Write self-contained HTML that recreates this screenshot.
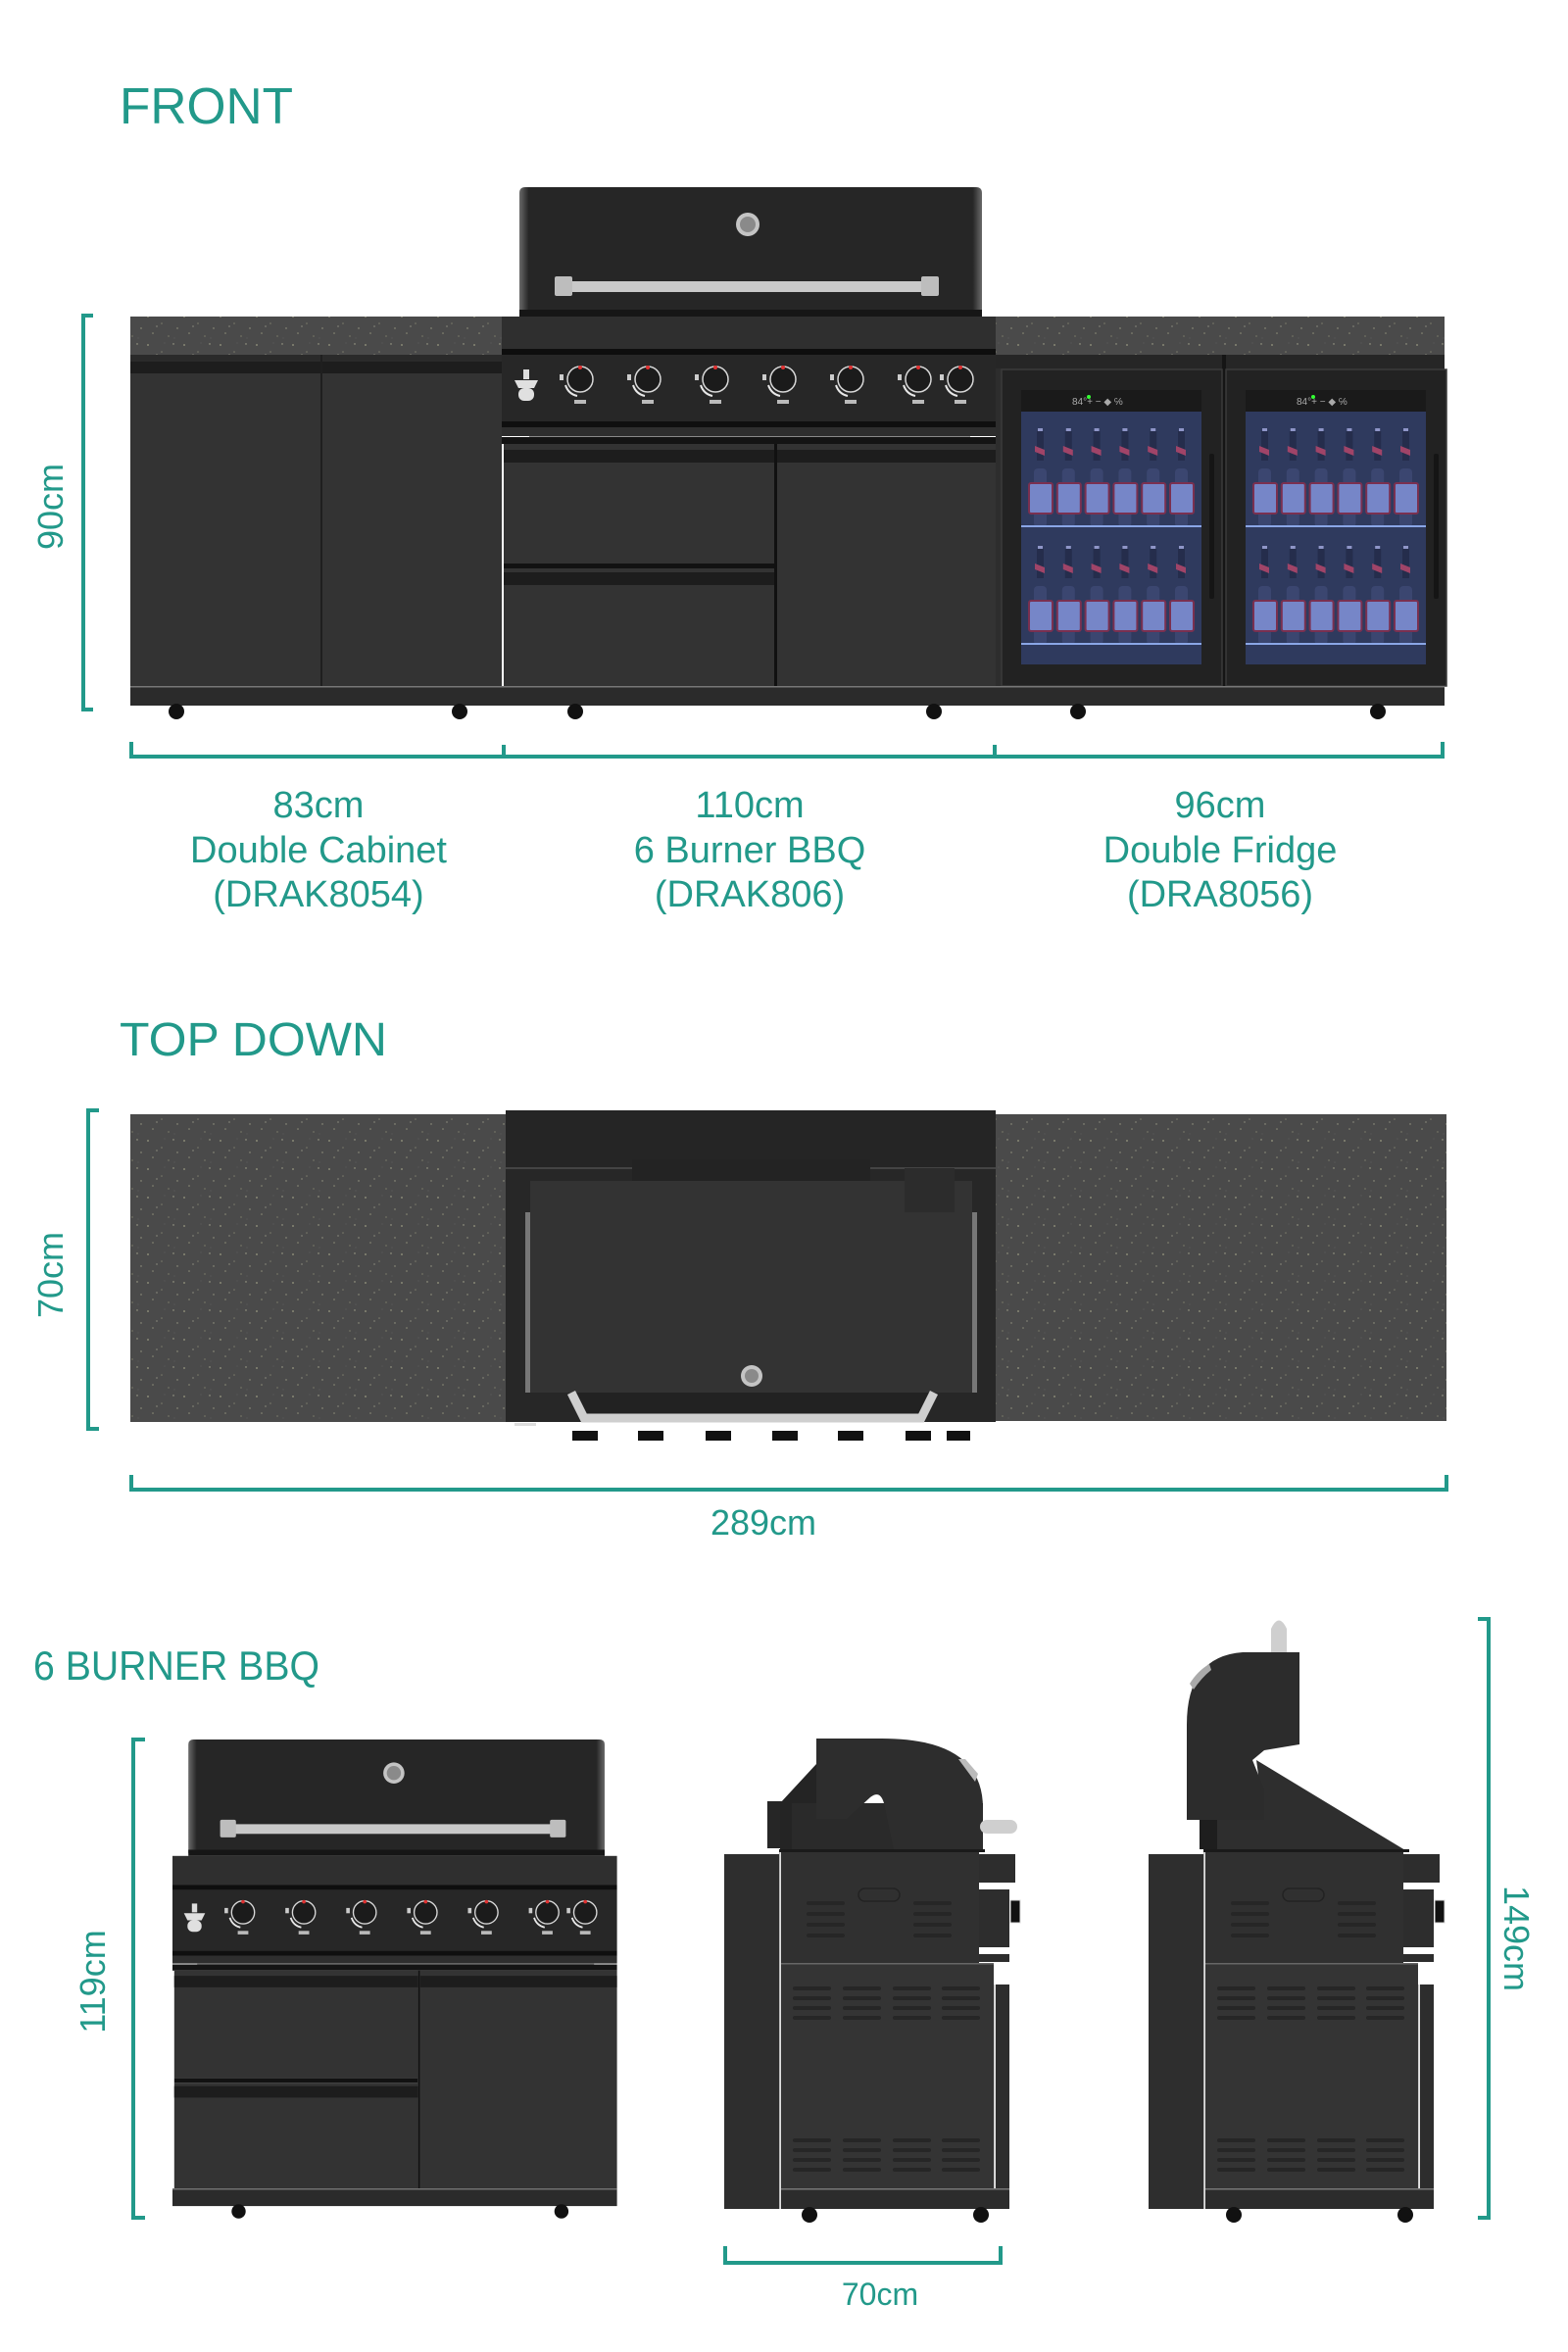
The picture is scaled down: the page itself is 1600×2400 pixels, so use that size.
<!DOCTYPE html>
<html><head><meta charset="utf-8"><style>
html,body{margin:0;padding:0;background:#fff;}
svg{display:block;}
text{font-family:"Liberation Sans",sans-serif;fill:#22998a;}
</style></head><body>
<svg width="1600" height="2400" viewBox="0 0 1600 2400" xmlns="http://www.w3.org/2000/svg">
<defs>
<pattern id="spk" width="37" height="29" patternUnits="userSpaceOnUse">
<rect width="37" height="29" fill="#4a4a4a"/>
<circle cx="3" cy="4" r="0.9" fill="#9a9a80"/><circle cx="17" cy="11" r="0.8" fill="#7a7a6a"/>
<circle cx="29" cy="3" r="0.7" fill="#a8a890"/><circle cx="8" cy="21" r="0.8" fill="#8c8c78"/>
<circle cx="24" cy="24" r="0.9" fill="#6f6f62"/><circle cx="33" cy="16" r="0.7" fill="#9a9a84"/>
<circle cx="12" cy="14" r="0.6" fill="#b0b09a"/><circle cx="20" cy="2" r="0.6" fill="#5c5c5c"/>
<circle cx="30" cy="26" r="0.6" fill="#5a5a5a"/>
</pattern>
<linearGradient id="hood" x1="0" x2="1" y1="0" y2="0">
<stop offset="0" stop-color="#6a6a6a"/><stop offset="0.02" stop-color="#262626"/><stop offset="0.98" stop-color="#262626"/><stop offset="1" stop-color="#6a6a6a"/>
</linearGradient>
<g id="knob">
<circle r="13" fill="#1b1b1b" stroke="#d8d8d8" stroke-width="1.5"/>
<circle cy="-12" r="2" fill="#e03030"/>
<path d="M-15 6 Q-12 15 -3 17" stroke="#e8e8e8" stroke-width="2" fill="none"/>
<rect x="-6" y="21" width="12" height="4" fill="#bbb"/>
<rect x="-21" y="-5" width="4" height="6" fill="#ccc"/>
</g>
<g id="wheel"><rect x="-8" y="-2" width="16" height="16" rx="8" fill="#111"/></g>
<g id="bbq">
<path d="M530 320 V197 Q530 191 536 191 H996 Q1002 191 1002 197 V320 Z" fill="url(#hood)"/>
<circle cx="763" cy="229" r="12" fill="#c4c4c4"/><circle cx="763" cy="229" r="8" fill="#8a8a8a"/>
<rect x="574" y="287" width="376" height="11" fill="#c9c9c9"/>
<rect x="566" y="282" width="18" height="20" rx="2" fill="#bdbdbd"/><rect x="940" y="282" width="18" height="20" rx="2" fill="#bdbdbd"/>
<rect x="530" y="316" width="472" height="7" fill="#161616"/>
<rect x="512" y="323" width="504" height="33" fill="#2f2f2f"/>
<rect x="512" y="356" width="504" height="6" fill="#0e0e0e"/>
<rect x="512" y="362" width="504" height="68" fill="#272727"/>
<use href="#knob" x="592" y="387"/><use href="#knob" x="661" y="387"/><use href="#knob" x="730" y="387"/>
<use href="#knob" x="799" y="387"/><use href="#knob" x="868" y="387"/><use href="#knob" x="937" y="387"/>
<use href="#knob" x="980" y="387"/>
<rect x="534" y="377" width="6" height="10" fill="#ddd"/><path d="M525 388 H549 L545 396 H529 Z" fill="#e0e0e0"/><rect x="529" y="396" width="16" height="13" rx="6" fill="#e0e0e0"/>
<rect x="512" y="430" width="504" height="6" fill="#0f0f0f"/>
<rect x="512" y="436" width="504" height="9" fill="#2e2e2e"/>
<rect x="540" y="445" width="450" height="1.5" fill="#8a8a8a"/>
<rect x="512" y="446" width="504" height="7" fill="#141414"/>
<rect x="514" y="453" width="276" height="122" fill="#333"/>
<rect x="514" y="459" width="276" height="13" fill="#1d1d1d"/>
<rect x="514" y="575" width="276" height="5" fill="#121212"/>
<rect x="514" y="580" width="276" height="120" fill="#333"/>
<rect x="514" y="584" width="276" height="13" fill="#1d1d1d"/>
<rect x="790" y="453" width="3" height="247" fill="#111"/>
<rect x="793" y="453" width="223" height="247" fill="#333"/>
<rect x="793" y="459" width="223" height="13" fill="#1d1d1d"/>
<rect x="512" y="700" width="504" height="20" fill="#2b2b2b"/><rect x="512" y="700" width="504" height="1.5" fill="#777"/>
<use href="#wheel" x="587" y="720"/><use href="#wheel" x="953" y="720"/>
</g>
<g id="sidebody">
<rect x="739" y="1892" width="56" height="362" fill="#2e2e2e"/>
<rect x="795" y="1890" width="1.5" height="364" fill="#bbb"/>
<rect x="797" y="1890" width="202" height="113" fill="#303030"/>
<rect x="797" y="2003" width="217" height="230" fill="#343434"/>
<rect x="797" y="2003" width="217" height="1.5" fill="#666"/>
<rect x="797" y="2233" width="233" height="21" fill="#2c2c2c"/><rect x="797" y="2233" width="233" height="1.5" fill="#777"/>
<rect x="876" y="1927" width="42" height="13" rx="6.5" fill="none" stroke="#222" stroke-width="1.5"/>
<g fill="#262626">
<rect x="823" y="1940" width="39" height="4" rx="2"/><rect x="823" y="1951" width="39" height="4" rx="2"/><rect x="823" y="1962" width="39" height="4" rx="2"/><rect x="823" y="1973" width="39" height="4" rx="2"/>
<rect x="932" y="1940" width="39" height="4" rx="2"/><rect x="932" y="1951" width="39" height="4" rx="2"/><rect x="932" y="1962" width="39" height="4" rx="2"/><rect x="932" y="1973" width="39" height="4" rx="2"/>
</g>
<g fill="#262626" id="ventrow">
<rect x="809" y="2027" width="39" height="4" rx="2"/><rect x="860" y="2027" width="39" height="4" rx="2"/><rect x="911" y="2027" width="39" height="4" rx="2"/><rect x="961" y="2027" width="39" height="4" rx="2"/>
<rect x="809" y="2037" width="39" height="4" rx="2"/><rect x="860" y="2037" width="39" height="4" rx="2"/><rect x="911" y="2037" width="39" height="4" rx="2"/><rect x="961" y="2037" width="39" height="4" rx="2"/>
<rect x="809" y="2047" width="39" height="4" rx="2"/><rect x="860" y="2047" width="39" height="4" rx="2"/><rect x="911" y="2047" width="39" height="4" rx="2"/><rect x="961" y="2047" width="39" height="4" rx="2"/>
<rect x="809" y="2057" width="39" height="4" rx="2"/><rect x="860" y="2057" width="39" height="4" rx="2"/><rect x="911" y="2057" width="39" height="4" rx="2"/><rect x="961" y="2057" width="39" height="4" rx="2"/>
</g>
<use href="#ventrow" y="155"/>
<rect x="999" y="1892" width="37" height="29" fill="#2d2d2d"/>
<rect x="999" y="1928" width="31" height="59" fill="#2d2d2d"/>
<rect x="1031" y="1939" width="10" height="23" fill="#111" stroke="#ddd" stroke-width="1"/>
<rect x="999" y="1994" width="31" height="8" fill="#2d2d2d"/>
<rect x="1016" y="2025" width="14" height="208" fill="#2d2d2d"/>
<rect x="1014" y="2025" width="1.5" height="208" fill="#ccc"/>
<use href="#wheel" x="826" y="2254"/><use href="#wheel" x="1001" y="2254"/>
</g>
</defs>

<!-- FRONT -->
<text x="122" y="126" font-size="52" textLength="177" lengthAdjust="spacingAndGlyphs">FRONT</text>

<!-- left cabinet -->
<rect x="133" y="323" width="379" height="39" fill="url(#spk)"/>
<rect x="133" y="362" width="379" height="338" fill="#333"/>
<rect x="133" y="362" width="379" height="7" fill="#2a2a2a"/>
<rect x="133" y="369" width="379" height="12" fill="#1d1d1d"/>
<rect x="327" y="362" width="2" height="338" fill="#1f1f1f"/>
<rect x="133" y="700" width="379" height="20" fill="#2b2b2b"/><rect x="133" y="700" width="379" height="1.5" fill="#777"/>
<use href="#wheel" x="180" y="720"/><use href="#wheel" x="469" y="720"/>

<!-- middle bbq -->
<use href="#bbq"/>

<!-- fridge -->
<rect x="1016" y="323" width="458" height="39" fill="url(#spk)"/>
<rect x="1016" y="362" width="458" height="338" fill="#2d2d2d"/>
<rect x="1016" y="362" width="458" height="14" fill="#262626"/>
<rect x="1247" y="362" width="4" height="338" fill="#151515"/>
<g id="fdoor">
<rect x="1022" y="377" width="225" height="323" fill="#222" stroke="#3a3a3a" stroke-width="1.5"/>
<rect x="1042" y="398" width="184" height="22" fill="#1a1a1a"/>
<text x="1094" y="413" font-size="10" style="fill:#aaa">84°+ − ◆ ℅</text>
<circle cx="1111" cy="405" r="2" fill="#3f3"/>
<rect x="1042" y="420" width="184" height="258" fill="#2f3a5e"/>
<g id="brow">
<g id="bot">
<rect x="1059" y="437" width="5" height="3" fill="#8f96c8"/>
<rect x="1058" y="440" width="7" height="30" fill="#252d4c"/>
<path d="M1056 455 L1066 459 L1066 465 L1056 461Z" fill="#a04468"/>
<rect x="1055" y="478" width="13" height="60" rx="4" fill="#3b4670"/>
<rect x="1050" y="493" width="24" height="31" rx="2" fill="#7686c8" stroke="#7a3050" stroke-width="2"/>
</g>
<use href="#bot" x="28.8"/><use href="#bot" x="57.6"/><use href="#bot" x="86.4"/><use href="#bot" x="115.2"/><use href="#bot" x="144"/>
</g>
<rect x="1042" y="536" width="184" height="2" fill="#8aa6e6"/>
<use href="#brow" y="120"/>
<rect x="1042" y="656" width="184" height="2" fill="#8aa6e6"/>
<rect x="1234" y="463" width="5" height="148" rx="2" fill="#151515"/>
</g>
<use href="#fdoor" x="229"/>
<rect x="1016" y="700" width="458" height="20" fill="#2b2b2b"/><rect x="1016" y="700" width="458" height="1.5" fill="#777"/>
<use href="#wheel" x="1100" y="720"/><use href="#wheel" x="1406" y="720"/>

<!-- front dims -->
<g stroke="#22998a" stroke-width="4" fill="none">
<path d="M95 322 H85 V724 H95"/>
<path d="M134 757 V772 H1472 V757 M514 760 V772 M1015 760 V772"/>
</g>
<text transform="translate(64,517) rotate(-90)" font-size="36" text-anchor="middle">90cm</text>
<g font-size="38" text-anchor="middle">
<text x="325" y="834">83cm</text><text x="325" y="880">Double Cabinet</text><text x="325" y="925">(DRAK8054)</text>
<text x="765" y="834">110cm</text><text x="765" y="880">6 Burner BBQ</text><text x="765" y="925">(DRAK806)</text>
<text x="1245" y="834">96cm</text><text x="1245" y="880">Double Fridge</text><text x="1245" y="925">(DRA8056)</text>
</g>

<!-- TOP DOWN -->
<text x="122" y="1077" font-size="48" textLength="273" lengthAdjust="spacingAndGlyphs">TOP DOWN</text>
<rect x="133" y="1137" width="383" height="314" fill="url(#spk)"/>
<rect x="1016" y="1137" width="460" height="313" fill="url(#spk)"/>
<rect x="516" y="1133" width="500" height="318" fill="#272727"/>
<rect x="516" y="1133" width="500" height="59" fill="#252525"/>
<rect x="516" y="1191" width="500" height="2" fill="#444"/>
<rect x="645" y="1183" width="243" height="22" fill="#232323"/>
<rect x="536" y="1237" width="461" height="184" fill="#777"/>
<rect x="541" y="1205" width="451" height="216" fill="#333"/>
<rect x="923" y="1192" width="51" height="45" fill="#2c2c2c"/>
<circle cx="767" cy="1404" r="11" fill="#c4c4c4"/><circle cx="767" cy="1404" r="7" fill="#8a8a8a"/>
<path d="M583 1421 L596 1447 H940 L953 1421" stroke="#cfcfcf" stroke-width="9" fill="#222"/>
<g fill="#111">
<rect x="584" y="1460" width="26" height="10"/><rect x="651" y="1460" width="26" height="10"/><rect x="720" y="1460" width="26" height="10"/>
<rect x="788" y="1460" width="26" height="10"/><rect x="855" y="1460" width="26" height="10"/><rect x="924" y="1460" width="26" height="10"/><rect x="966" y="1460" width="24" height="10"/>
</g>
<rect x="525" y="1452" width="22" height="3" fill="#ddd"/>
<g stroke="#22998a" stroke-width="4" fill="none">
<path d="M101 1133 H90 V1458 H101"/>
<path d="M134 1505 V1520 H1476 V1505"/>
</g>
<text transform="translate(64,1301) rotate(-90)" font-size="36" text-anchor="middle">70cm</text>
<text x="779" y="1566" font-size="36" text-anchor="middle">289cm</text>

<!-- 6 BURNER BBQ -->
<text x="34" y="1714" font-size="42" textLength="292" lengthAdjust="spacingAndGlyphs">6 BURNER BBQ</text>
<use href="#bbq" transform="translate(176,1775) scale(0.9) translate(-512,-191)"/>
<g stroke="#22998a" stroke-width="4" fill="none">
<path d="M148 1775 H136 V2263 H148"/>
<path d="M740 2292 V2309 H1021 V2292"/>
<path d="M1508 1652 H1519 V2263 H1508"/>
</g>
<text transform="translate(107,2022) rotate(-90)" font-size="36" text-anchor="middle">119cm</text>
<text x="898" y="2352" font-size="32" text-anchor="middle">70cm</text>
<text transform="translate(1535,1978) rotate(90)" font-size="36" text-anchor="middle">149cm</text>

<!-- side view 1 -->
<use href="#sidebody"/>
<rect x="783" y="1838" width="26" height="48" fill="#262626"/>
<path d="M796 1840 L833 1800 V1888 H796Z" fill="#242424"/>
<rect x="808" y="1840" width="195" height="48" fill="#2a2a2a"/>
<path d="M833 1774 H900 Q1003 1774 1003 1845 V1888 H912 L902 1840 Q898 1826 888 1834 L864 1856 H833 Z" fill="#2d2d2d"/>
<rect x="1000" y="1857" width="38" height="14" rx="7" fill="#cfcfcf"/>
<path d="M978 1795 L995 1818 L998 1810 L985 1795Z" fill="#bbb"/>
<rect x="795" y="1887" width="210" height="3" fill="#1a1a1a"/>

<!-- side view 2 -->
<use href="#sidebody" x="433"/>
<path d="M1240 1888 V1857 H1290 L1282 1796 L1434 1888 Z" fill="#2e2e2e"/>
<rect x="1224" y="1857" width="18" height="30" fill="#1e1e1e"/>
<path d="M1211 1857 V1760 Q1211 1690 1268 1686 H1326 V1780 L1290 1786 L1278 1796 L1290 1826 V1857 Z" fill="#2c2c2c"/>
<path d="M1297 1686 V1662 Q1305 1645 1313 1662 V1686 Z" fill="#cfcfcf"/>
<path d="M1214 1718 Q1222 1705 1234 1698 L1236 1704 Q1226 1712 1218 1724Z" fill="#aaa"/>
<rect x="1228" y="1887" width="210" height="3" fill="#1a1a1a"/>
</svg>
</body></html>
